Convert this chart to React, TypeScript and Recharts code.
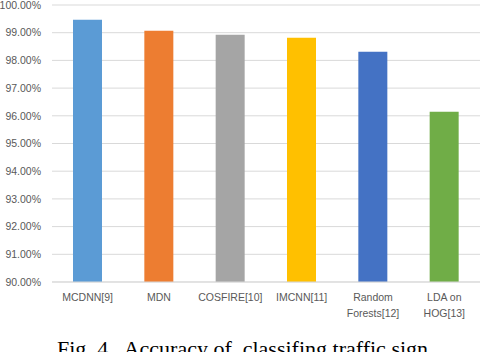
import { BarChart, Bar, XAxis, YAxis, CartesianGrid, Cell } from 'recharts';

const methods = ['MCDNN[9]', 'MDN', 'COSFIRE[10]', 'IMCNN[11]', 'Random\nForests[12]', 'LDA on\nHOG[13]'];
const accuracy = [99.47, 99.07, 98.93, 98.82, 98.31, 96.15];
const barColors = ['#5B9BD5', '#ED7D31', '#A5A5A5', '#FFC000', '#4472C4', '#70AD47'];
const yTicks = [90, 91, 92, 93, 94, 95, 96, 97, 98, 99, 100];

const data = methods.map((name, i) => ({ name, value: accuracy[i] }));

const font = '"Liberation Sans", Arial, sans-serif';

function MethodTick({ x, y, payload }: any) {
  const lines = String(payload.value).split('\n');
  return (
    <text x={x} y={y} textAnchor="middle" fill="#595959" fontSize={10.5} fontFamily={font}>
      {lines.map((line, i) => (
        <tspan key={i} x={x} dy={i === 0 ? 11 : 16}>
          {line}
        </tspan>
      ))}
    </text>
  );
}

export default function App() {
  return (
    <div style={{ position: 'absolute', left: 0, top: 0, width: 482, height: 352, overflow: 'hidden', background: '#fff' }}>
      <BarChart
        width={482}
        height={352}
        data={data}
        margin={{ top: 5, right: 2, bottom: 30, left: 0 }}
      >
        <CartesianGrid vertical={false} stroke="#D9D9D9" />
        <XAxis
          dataKey="name"
          interval={0}
          height={40}
          axisLine={{ stroke: '#D9D9D9' }}
          tickLine={false}
          tick={<MethodTick />}
        />
        <YAxis
          width={52}
          domain={[90, 100]}
          ticks={yTicks}
          allowDataOverflow
          axisLine={false}
          tickLine={false}
          tickSize={0}
          tickMargin={11}
          tickFormatter={(v: number) => `${v.toFixed(2)}%`}
          tick={{ fill: '#595959', fontSize: 10.5, fontFamily: font }}
        />
        <Bar dataKey="value" barSize={29} isAnimationActive={false}>
          {data.map((_, i) => (
            <Cell key={i} fill={barColors[i]} />
          ))}
        </Bar>
      </BarChart>
      <div
        style={{
          position: 'absolute',
          left: 57,
          top: 336,
          fontFamily: '"Liberation Serif", "Times New Roman", serif',
          fontSize: 22,
          whiteSpace: 'pre',
          color: '#000',
        }}
      >
        {'Fig. 4.  Accuracy of  classifing traffic sign'}
      </div>
    </div>
  );
}
